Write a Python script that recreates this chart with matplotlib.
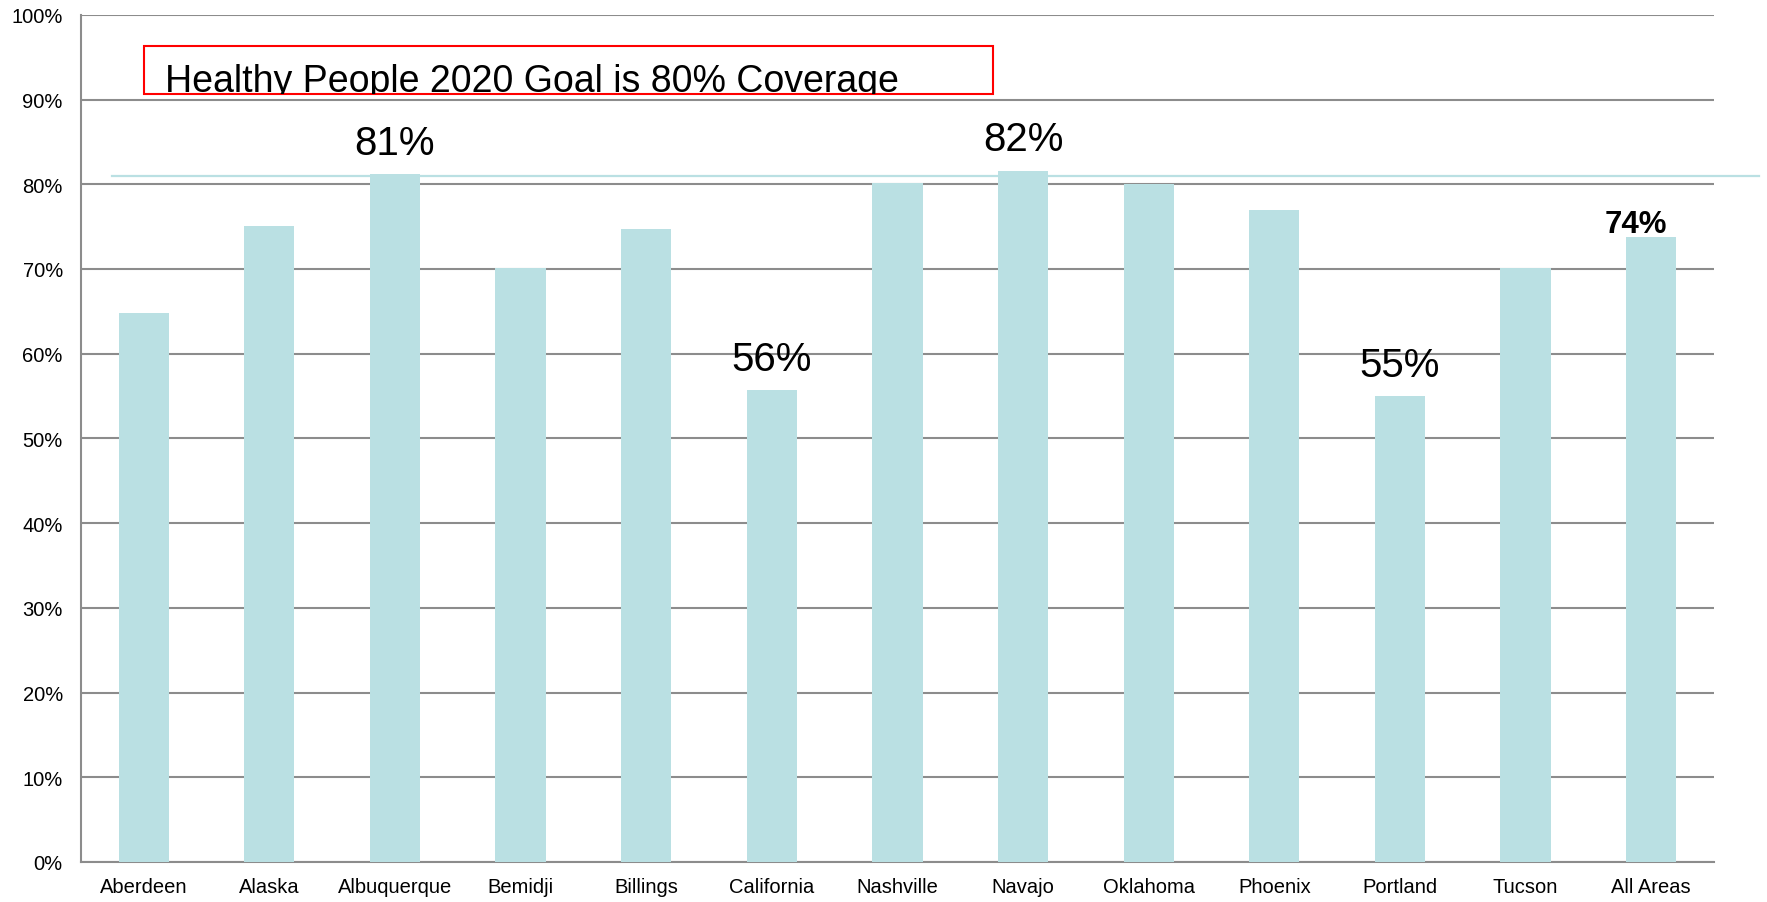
#! /usr/bin/env python3

import numpy as np
import matplotlib.pyplot as plt
from matplotlib.patches import Rectangle

plt.rcParams["font.family"] = ["Liberation Sans", "DejaVu Sans"]

areas = ["Aberdeen", "Alaska", "Albuquerque", "Bemidji", "Billings", "California",
         "Nashville", "Navajo", "Oklahoma", "Phoenix", "Portland", "Tucson", "All Areas"]
coverage = [64.8, 75.1, 81.2, 70.1, 74.7, 55.7, 80.2, 81.6, 80.0, 77.0, 55.0, 70.1, 73.8]

# labels shown above some bars
labelled = {"Albuquerque": "81%", "California": "56%", "Navajo": "82%", "Portland": "55%"}
total_label = "74%"

goal_text = "Healthy People 2020 Goal is 80% Coverage"
goal_line = 81.0

bar_color = "#bae0e3"
grid_color = "#8c8c8c"

fig = plt.figure(figsize=(17.67, 9.03), dpi=100)
ax = fig.add_axes([0.0458, 0.0443, 0.9242, 0.9382])

x = np.arange(len(areas))
ax.bar(x, coverage, width=0.4, color=bar_color, zorder=3)

ax.set_xlim(-0.5, len(areas) - 0.5)
ax.set_ylim(0, 100)
ax.set_yticks(np.arange(0, 101, 10))
ax.set_yticklabels(["{}%".format(v) for v in range(0, 101, 10)])
ax.set_xticks(x)
ax.set_xticklabels(areas)
ax.tick_params(axis="both", length=0, labelsize=14.5)
ax.tick_params(axis="x", pad=11)
ax.tick_params(axis="y", pad=13)

ax.yaxis.grid(True, color=grid_color, linewidth=1.5, zorder=1)
for side in ["top", "right"]:
    ax.spines[side].set_visible(False)
for side in ["left", "bottom"]:
    ax.spines[side].set_color(grid_color)
    ax.spines[side].set_linewidth(1.5)

for i, name in enumerate(areas):
    if name in labelled:
        ax.text(i, coverage[i] + 2.4, labelled[name], ha="center", va="baseline",
                fontsize=29, zorder=5)
ax.text(len(areas) - 1 - 0.12, coverage[-1] + 0.6, total_label, ha="center",
        va="baseline", fontsize=22.5, fontweight="bold", zorder=5)

# goal line, runs past the plot area on the right
ax.plot([-0.25, 12.86], [goal_line, goal_line], color=bar_color, linewidth=1.6,
        clip_on=False, zorder=4)

# red box with the goal text, clipped at its bottom edge
box = Rectangle((0.0, 90.6), 6.76, 5.7, fill=False, edgecolor="#ff0000",
                linewidth=1.5, zorder=6)
ax.add_patch(box)
clip_box = Rectangle((0.0, 90.6), 6.76, 5.7, transform=ax.transData)
t = ax.text(0.17, 91.0, goal_text, ha="left", va="baseline", fontsize=27,
            zorder=6, clip_on=True)
t.set_clip_path(clip_box)

fig.savefig("out.png", dpi=100)
